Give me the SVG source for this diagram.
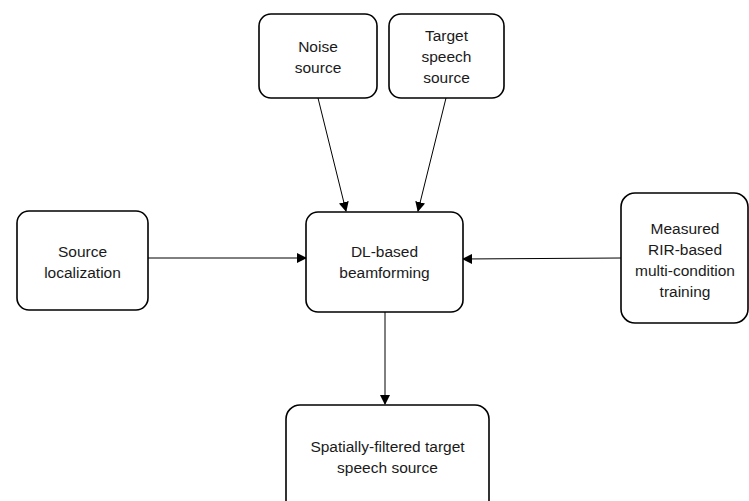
<svg xmlns="http://www.w3.org/2000/svg" width="749" height="501" viewBox="0 0 749 501">
<defs>
<marker id="ah" markerWidth="10" markerHeight="10" refX="9" refY="5" orient="auto" markerUnits="userSpaceOnUse">
<path d="M0,0 L10,5 L0,10 Z" fill="#000"/>
</marker>
<style>
.box{fill:#fff;stroke:#000;stroke-width:1.6}
.t{font-family:"Liberation Sans",Arial,sans-serif;font-size:15.5px;fill:#1a1a1a;text-anchor:middle}
.c{stroke:#000;stroke-width:1;fill:none;marker-end:url(#ah)}
</style>
</defs>
<rect width="749" height="501" fill="#fff"/>
<g id="connectors">
<line class="c" x1="318" y1="98" x2="346" y2="211"/>
<line class="c" x1="446" y1="98" x2="418" y2="211"/>
<line class="c" x1="148" y1="258" x2="306" y2="258"/>
<line class="c" x1="621" y1="258" x2="463" y2="259"/>
<line class="c" x1="385" y1="312" x2="385" y2="404"/>
</g>
<g id="noise">
<rect class="box" x="259" y="14" width="118" height="84" rx="12"/>
<text class="t" x="318" y="52">Noise</text>
<text class="t" x="318" y="73">source</text>
</g>
<g id="target">
<rect class="box" x="389" y="14" width="115" height="84" rx="12"/>
<text class="t" x="446.5" y="41">Target</text>
<text class="t" x="446.5" y="62">speech</text>
<text class="t" x="446.5" y="83">source</text>
</g>
<g id="localization">
<rect class="box" x="17" y="211" width="131" height="99" rx="12"/>
<text class="t" x="82.5" y="257">Source</text>
<text class="t" x="82.5" y="278">localization</text>
</g>
<g id="beamforming">
<rect class="box" x="306" y="212" width="157" height="100" rx="12"/>
<text class="t" x="384.5" y="257">DL-based</text>
<text class="t" x="384.5" y="278">beamforming</text>
</g>
<g id="rir">
<rect class="box" x="621" y="193" width="127" height="130" rx="14"/>
<text class="t" x="685" y="234">Measured</text>
<text class="t" x="685" y="255">RIR-based</text>
<text class="t" x="685" y="276">multi-condition</text>
<text class="t" x="685" y="297">training</text>
</g>
<g id="output">
<rect class="box" x="286" y="405" width="203" height="110" rx="14"/>
<text class="t" x="387.5" y="452">Spatially-filtered target</text>
<text class="t" x="387.5" y="473">speech source</text>
</g>
</svg>
